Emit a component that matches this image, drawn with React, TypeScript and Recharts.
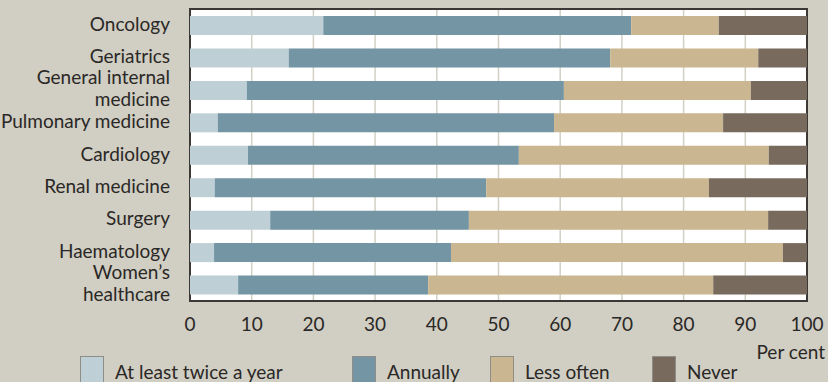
import { BarChart, Bar, XAxis, YAxis, CartesianGrid, ReferenceArea } from "recharts";

const specialties = [
  "Oncology",
  "Geriatrics",
  "General internal\nmedicine",
  "Pulmonary medicine",
  "Cardiology",
  "Renal medicine",
  "Surgery",
  "Haematology",
  "Women\u2019s\nhealthcare",
];
const twiceAYear = [21.6, 16.0, 9.2, 4.5, 9.4, 4.0, 13.0, 3.9, 7.8];
const annually = [49.9, 52.1, 51.4, 54.5, 43.9, 44.0, 32.2, 38.4, 30.8];
const lessOften = [14.2, 24.0, 30.3, 27.4, 40.5, 36.1, 48.5, 53.8, 46.2];
const never = [14.3, 7.9, 9.1, 13.6, 6.2, 15.9, 6.3, 3.9, 15.2];
const xTicks = [0, 10, 20, 30, 40, 50, 60, 70, 80, 90, 100];

const seriesKeys = ["twice", "annually", "less", "never"];
const seriesNames = ["At least twice a year", "Annually", "Less often", "Never"];
const seriesColors = ["#bfcfd6", "#7395a4", "#cab691", "#786b5e"];

const data = specialties.map((name, i) => ({
  name,
  twice: twiceAYear[i],
  annually: annually[i],
  less: lessOften[i],
  never: never[i],
}));

const FONT = "Lato, 'Noto Sans', sans-serif";
const TEXT = "#2a2826";

// left-hand labels, some split over two lines
function CategoryTick(props: any) {
  const { x, y, payload } = props;
  const lines = String(payload.value).split("\n");
  const first = lines.length > 1 ? y + 5 - 11 : y + 5.5;
  return (
    <text x={x - 20} y={first} textAnchor="end" fill={TEXT} fontSize={19} fontFamily={FONT}>
      {lines.map((l: string, i: number) => (
        <tspan key={i} x={x - 20} y={first + i * 22}>
          {l}
        </tspan>
      ))}
    </text>
  );
}

function ValueTick(props: any) {
  const { x, y, payload } = props;
  return (
    <text x={x} y={y + 30} textAnchor="middle" fill={TEXT} fontSize={19} fontFamily={FONT}>
      {payload.value}
    </text>
  );
}

const legendPos = [80, 352, 490, 652];

export default function App() {
  return (
    <div style={{ position: "absolute", left: 0, top: 0, width: 828, height: 382, background: "#d1cec3", overflow: "hidden" }}>
      <BarChart
        width={828}
        height={382}
        data={data}
        layout="vertical"
        margin={{ top: 9, right: 21, bottom: 51, left: 0 }}
        barSize={19}
      >
        <CartesianGrid horizontal={false} fill="#ffffff" stroke="#d3d0c6" strokeWidth={1.5} />
        <XAxis
          type="number"
          domain={[0, 100]}
          ticks={xTicks}
          interval={0}
          height={30}
          axisLine={false}
          tickLine={false}
          tickSize={0}
          tickMargin={0}
          tick={<ValueTick />}
        />
        <YAxis
          type="category"
          dataKey="name"
          width={190}
          interval={0}
          axisLine={false}
          tickLine={false}
          tickSize={0}
          tickMargin={0}
          tick={<CategoryTick />}
        />
        {seriesKeys.map((k, i) => (
          <Bar key={k} dataKey={k} name={seriesNames[i]} stackId="a" fill={seriesColors[i]} isAnimationActive={false} />
        ))}
        <ReferenceArea x1={0} x2={100} fill="none" stroke="#3b3835" strokeWidth={2} ifOverflow="visible" />
      </BarChart>
      <div style={{ position: "absolute", right: 3, top: 340, fontFamily: FONT, fontSize: 19, color: TEXT }}>Per cent</div>
      {seriesNames.map((n, i) => (
        <div
          key={n}
          style={{
            position: "absolute",
            left: legendPos[i],
            top: 356,
            display: "flex",
            alignItems: "flex-start",
            fontFamily: FONT,
            fontSize: 19,
            color: TEXT,
          }}
        >
          <span
            style={{
              display: "inline-block",
              width: 22,
              height: 26,
              background: seriesColors[i],
              border: "1.5px solid #8f8d88",
              marginRight: 11,
            }}
          />
          <span style={{ marginTop: 4 }}>{n}</span>
        </div>
      ))}
    </div>
  );
}
